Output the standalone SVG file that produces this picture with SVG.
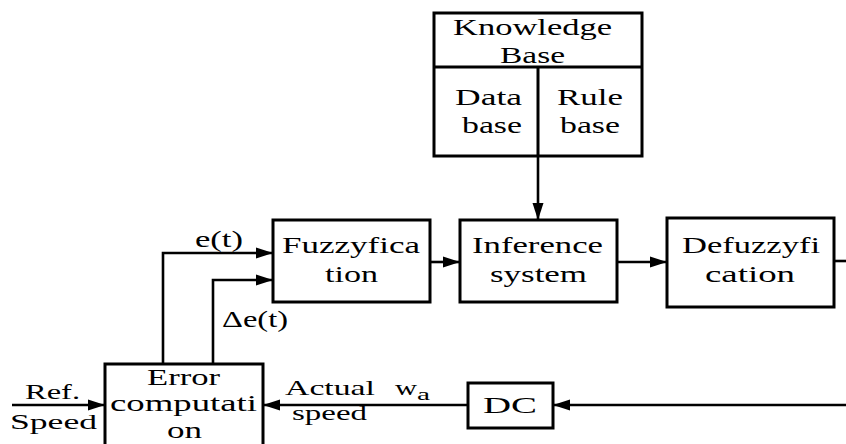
<svg xmlns="http://www.w3.org/2000/svg" width="846" height="444" viewBox="0 0 846 444" font-family="Liberation Serif, Tinos, Times New Roman, Nimbus Roman, DejaVu Serif, serif">
  <style>
    .box { fill: #ffffff; stroke: #000000; stroke-width: 3; }
    .div { fill: none; stroke: #000000; stroke-width: 3; }
    .wire { fill: none; stroke: #000000; stroke-width: 2.6; }
    .t { font-size: 24px; fill: #000000; }
    .kb { font-size: 23px; }
    .sig { font-size: 22px; }
    .sub { font-size: 17px; }
  </style>
  <defs>
    <marker id="arrow" markerUnits="userSpaceOnUse" markerWidth="18" markerHeight="12" refX="17" refY="6" orient="auto">
      <path d="M0,0.5 L17,6 L0,11.5 Z" fill="#000000"/>
    </marker>
  </defs>

  <!-- Knowledge base with its two sub-blocks -->
  <g id="knowledge-base" font-family="Liberation Serif, serif">
    <rect class="box" x="434" y="13" width="208" height="143"/>
    <line class="div" x1="434" y1="67" x2="642" y2="67"/>
    <line class="div" x1="538" y1="67" x2="538" y2="156"/>
    <text class="t kb" x="453" y="35" textLength="159" lengthAdjust="spacingAndGlyphs">Knowledge</text>
    <text class="t kb" x="500" y="63" textLength="65" lengthAdjust="spacingAndGlyphs">Base</text>
    <text class="t kb" x="455" y="105" textLength="67" lengthAdjust="spacingAndGlyphs">Data</text>
    <text class="t kb" x="462" y="133" textLength="60" lengthAdjust="spacingAndGlyphs">base</text>
    <text class="t kb" x="557" y="105" textLength="66" lengthAdjust="spacingAndGlyphs">Rule</text>
    <text class="t kb" x="560" y="133" textLength="60" lengthAdjust="spacingAndGlyphs">base</text>
  </g>

  <g id="fuzzyfication" font-family="Liberation Serif, serif">
    <rect class="box" x="273" y="220" width="157" height="82"/>
    <text class="t" x="282" y="253" textLength="138" lengthAdjust="spacingAndGlyphs">Fuzzyfica</text>
    <text class="t" x="325" y="282" textLength="53" lengthAdjust="spacingAndGlyphs">tion</text>
  </g>

  <g id="inference" font-family="Liberation Serif, serif">
    <rect class="box" x="460" y="220" width="157" height="82"/>
    <text class="t" x="472" y="253" textLength="131" lengthAdjust="spacingAndGlyphs">Inference</text>
    <text class="t" x="490" y="282" textLength="97" lengthAdjust="spacingAndGlyphs">system</text>
  </g>

  <g id="defuzzyfication" font-family="Liberation Serif, serif">
    <rect class="box" x="667" y="218" width="167" height="89"/>
    <text class="t" x="682" y="253" textLength="138" lengthAdjust="spacingAndGlyphs">Defuzzyfi</text>
    <text class="t" x="705" y="282" textLength="90" lengthAdjust="spacingAndGlyphs">cation</text>
  </g>

  <g id="error-computation" font-family="Liberation Serif, serif">
    <rect class="box" x="105" y="364" width="158" height="100"/>
    <text class="t" x="147" y="385" textLength="73" lengthAdjust="spacingAndGlyphs">Error</text>
    <text class="t" x="110" y="411" textLength="147" lengthAdjust="spacingAndGlyphs">computati</text>
    <text class="t" x="167" y="438" textLength="35" lengthAdjust="spacingAndGlyphs">on</text>
  </g>

  <g id="dc" font-family="Liberation Serif, serif">
    <rect class="box" x="468" y="383" width="85" height="45"/>
    <text class="t" x="483" y="413" textLength="54" lengthAdjust="spacingAndGlyphs">DC</text>
  </g>

  <!-- Signal paths -->
  <g id="connectors">
    <line class="wire" x1="538" y1="156" x2="538" y2="220" marker-end="url(#arrow)"/>
    <line class="wire" x1="430" y1="262" x2="460" y2="262" marker-end="url(#arrow)"/>
    <line class="wire" x1="617" y1="262" x2="667" y2="262" marker-end="url(#arrow)"/>
    <line class="wire" x1="834" y1="261" x2="846" y2="261"/>
    <polyline class="wire" points="163,364 163,253 273,253" marker-end="url(#arrow)"/>
    <polyline class="wire" points="213,364 213,280 273,280" marker-end="url(#arrow)"/>
    <line class="wire" x1="12" y1="405" x2="105" y2="405" marker-end="url(#arrow)"/>
    <line class="wire" x1="468" y1="405" x2="263" y2="405" marker-end="url(#arrow)"/>
    <line class="wire" x1="846" y1="405" x2="553" y2="405" marker-end="url(#arrow)"/>
  </g>

  <!-- Signal labels -->
  <g id="labels" font-family="Liberation Serif, serif">
    <text class="t" x="195" y="247" textLength="48" lengthAdjust="spacingAndGlyphs">e(t)</text>
    <text class="t" x="222" y="327" textLength="66" lengthAdjust="spacingAndGlyphs">Δe(t)</text>
    <text class="t sig" x="25" y="399" textLength="55" lengthAdjust="spacingAndGlyphs">Ref.</text>
    <text class="t sig" x="10" y="429" textLength="87" lengthAdjust="spacingAndGlyphs">Speed</text>
    <text class="t sig" x="285" y="395" textLength="90" lengthAdjust="spacingAndGlyphs">Actual</text>
    <text class="t sig" x="292" y="420" textLength="75" lengthAdjust="spacingAndGlyphs">speed</text>
    <text class="t sig" x="395" y="395" textLength="22" lengthAdjust="spacingAndGlyphs">w</text>
    <text class="t sub" x="417" y="400" textLength="13" lengthAdjust="spacingAndGlyphs">a</text>
  </g>
</svg>
